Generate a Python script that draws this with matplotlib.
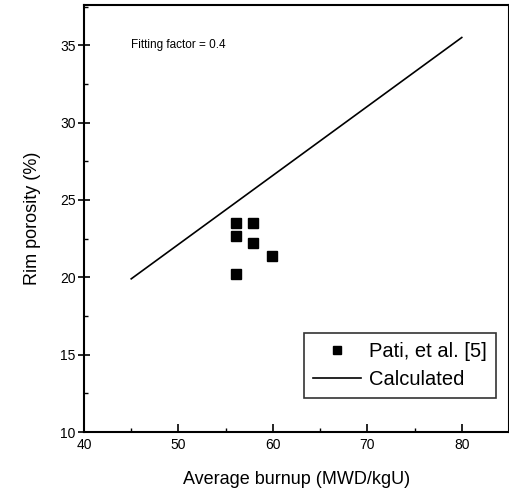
import matplotlib.pyplot as plt
from matplotlib.ticker import MultipleLocator

plt.rcParams['font.family'] = ['Liberation Sans', 'DejaVu Sans']

# measured data (Pati, et al. [5])
burnup_meas = [56.1, 57.9, 56.1, 57.9, 59.9, 56.1]
porosity_meas = [23.5, 23.5, 22.7, 22.2, 21.4, 20.2]

# calculated line
burnup_calc = [45, 80]
porosity_calc = [19.9, 35.5]

fig = plt.figure(figsize=(5.10, 4.97), dpi=100)
ax = fig.add_axes([84 / 510, 1 - 432 / 497, (509 - 84) / 510, (432 - 5) / 497])

ax.plot(burnup_meas, porosity_meas, 's', color='black', markersize=7, label='Pati, et al. [5]')
ax.plot(burnup_calc, porosity_calc, '-', color='black', linewidth=1.2, label='Calculated')

ax.set_xlim(40, 85)
ax.set_ylim(10, 37.6)
ax.xaxis.set_major_locator(MultipleLocator(10))
ax.xaxis.set_minor_locator(MultipleLocator(5))
ax.yaxis.set_major_locator(MultipleLocator(5))
ax.yaxis.set_minor_locator(MultipleLocator(2.5))
ax.tick_params(axis='x', which='major', direction='in', length=6, width=1.2, labelsize=10, pad=4)
ax.tick_params(axis='x', which='minor', direction='in', length=3, width=1)
ax.tick_params(axis='y', which='major', direction='inout', length=8, width=1.2, labelsize=10, pad=2)
ax.tick_params(axis='y', which='minor', direction='in', length=3, width=1)
for s in ax.spines.values():
    s.set_linewidth(1.5)

ax.set_xlabel('Average burnup (MWD/kgU)', fontsize=13, labelpad=14)
ax.set_ylabel('Rim porosity (%)', fontsize=13, labelpad=14)

ax.text(45.0, 35, 'Fitting factor = 0.4', fontsize=8.5, va='center', ha='left')

leg = ax.legend(loc='lower right', bbox_to_anchor=(0.97, 0.08), fontsize=14.5, frameon=True,
                fancybox=False, edgecolor='black', handlelength=2.4, handletextpad=0.4,
                borderpad=0.45, labelspacing=0.45, markerscale=0.8, borderaxespad=0)
leg.get_frame().set_linewidth(1.2)

fig.savefig('out.png', dpi=100)
